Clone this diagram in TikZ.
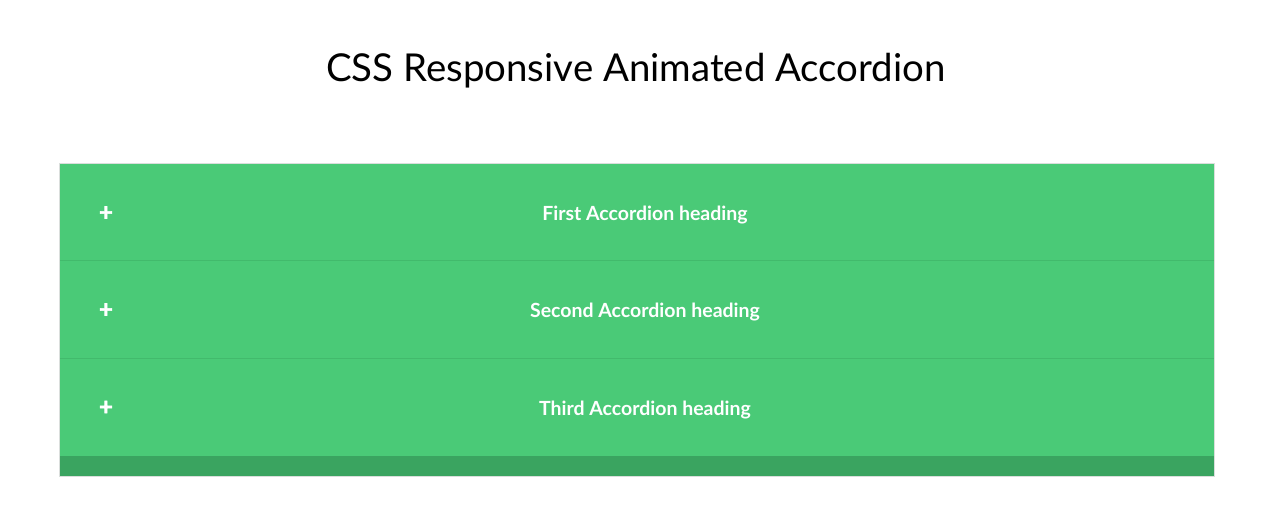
\documentclass[tikz,border=0pt]{standalone}
\usepackage{fontspec}
\setmainfont{Lato}
\newfontfamily\plusfont[FakeBold=2.5]{Lato Bold}
\definecolor{accgreen}{RGB}{74,202,119}
\definecolor{accdark}{RGB}{58,164,96}
\definecolor{accsep}{RGB}{66,186,108}
\definecolor{accborder}{RGB}{218,222,220}
\tikzset{
  heading/.style={text=white, font=\fontsize{19.5}{22}\selectfont\bfseries, inner sep=0pt, anchor=center},
  plussign/.style={text=white, font=\plusfont\fontsize{24}{26}\selectfont, inner sep=0pt, anchor=center},
  sepline/.style={draw=accsep, line width=1pt},
}
\begin{document}
\begin{tikzpicture}[x=1pt,y=-1pt]
\useasboundingbox[fill=white] (0,0) rectangle (1280,505);
\node[font=\fontsize{38.4}{42}\selectfont, inner sep=0pt, anchor=center] (title) at (636,71) {CSS Responsive Animated Accordion};
\fill[accgreen] (60,164) rectangle (1214,456);
\fill[accdark] (60,456) rectangle (1214,476);
\draw[sepline] (60,261) -- (1214,261);
\draw[sepline] (60,358) -- (1214,358);
\draw[accborder, line width=1pt] (59.5,163.5) rectangle (1214.5,476.5);
\node[plussign] (p1) at (106,213.5) {+};
\node[plussign] (p2) at (106,310.5) {+};
\node[plussign] (p3) at (106,408) {+};
\node[heading] (h1) at (645,215) {First Accordion heading};
\node[heading] (h2) at (645,312) {Second Accordion heading};
\node[heading] (h3) at (645,410) {Third Accordion heading};
\end{tikzpicture}
\end{document}
